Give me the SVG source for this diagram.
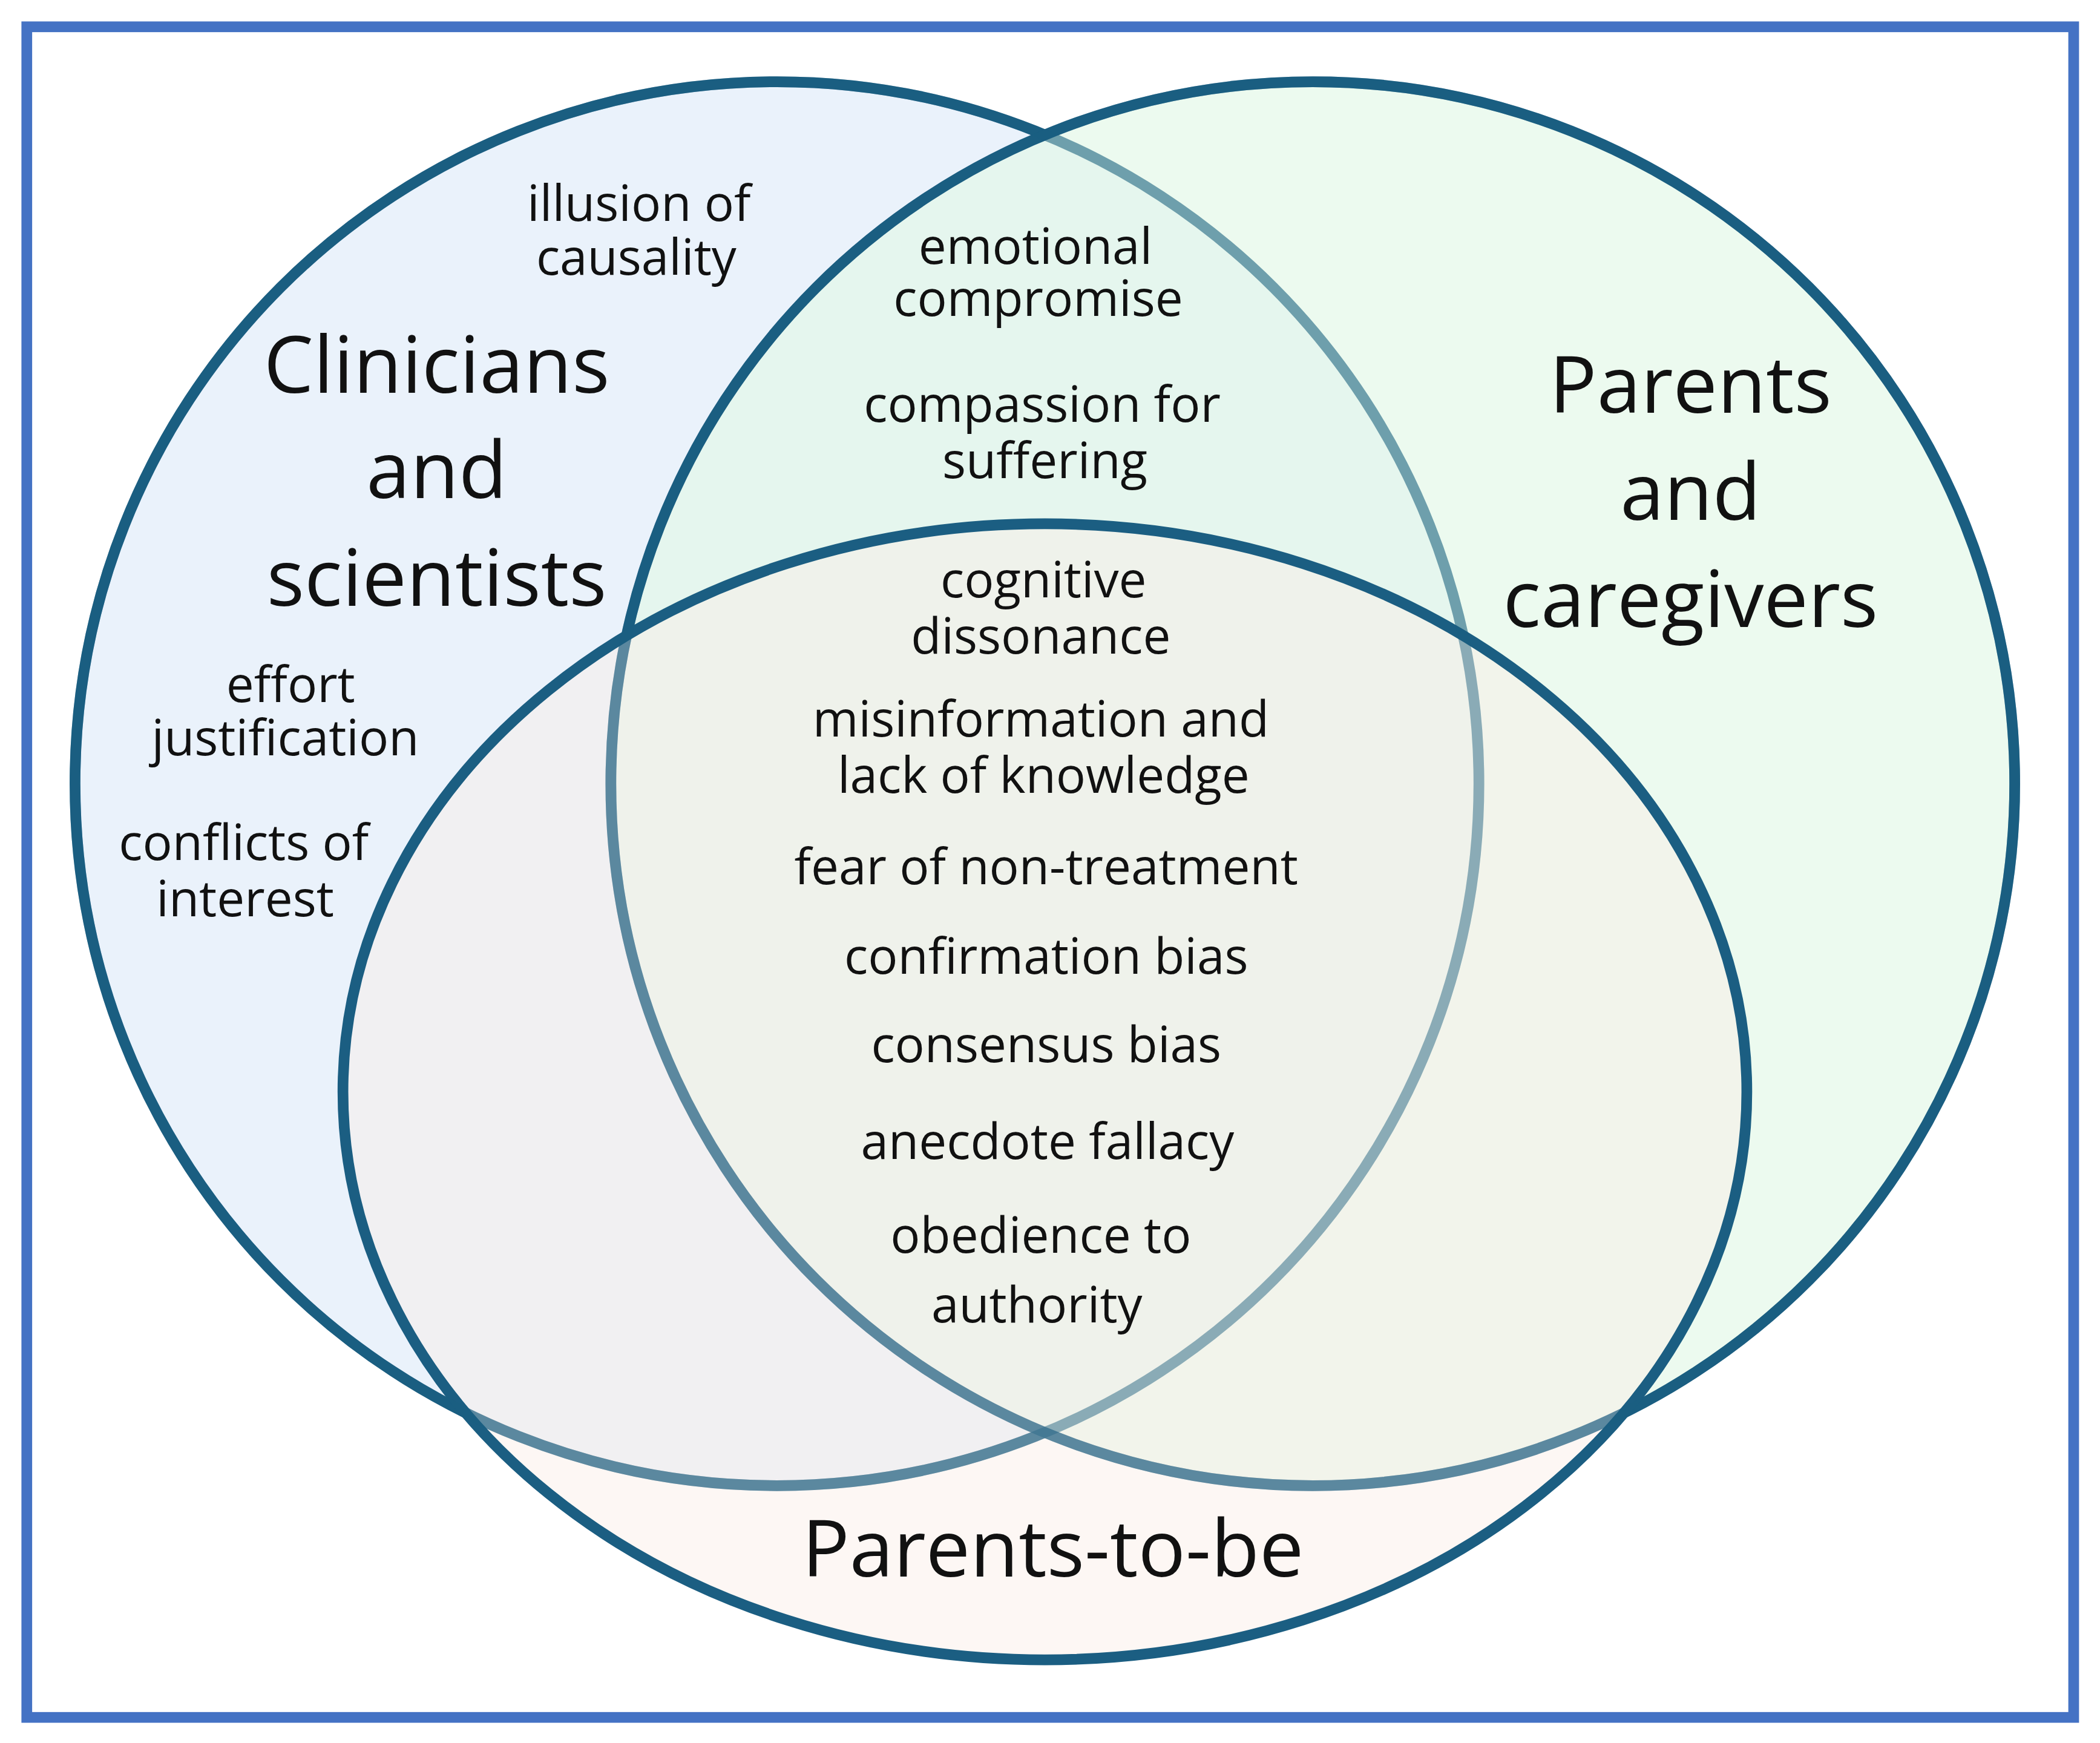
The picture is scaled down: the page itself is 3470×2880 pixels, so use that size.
<svg xmlns="http://www.w3.org/2000/svg" width="3470" height="2880" viewBox="0 0 3470 2880">
<style>
.s{stroke:#1B5E82;stroke-width:8}
.t{font-family:"Open Sans","Liberation Sans",sans-serif;font-size:37px;fill:#111;text-anchor:middle}
.h{font-family:"Open Sans","Liberation Sans",sans-serif;font-size:59px;fill:#111;text-anchor:middle}
</style>
<rect width="3470" height="2880" fill="#fff"/>
<g transform="scale(2.2135)">
<rect x="20" y="20" width="1528" height="1262" fill="#fff" stroke="#4472C4" stroke-width="8"/>
<g id="clinicians"><circle class="s" cx="580" cy="585" r="524" fill="#EAF2FB"/></g>
<g id="caregivers"><circle class="s" cx="980" cy="585" r="524" fill="#E2F7E6" fill-opacity="0.65"/></g>
<g id="parentstobe"><ellipse class="s" cx="780" cy="815" rx="524" ry="424" fill="#FBEDE6" fill-opacity="0.45"/></g>
<circle cx="580" cy="585" r="524" fill="none" stroke="#1B5E82" stroke-width="8" stroke-opacity="0.35"/>
<circle cx="980" cy="585" r="524" fill="none" stroke="#1B5E82" stroke-width="8" stroke-opacity="0.35"/>
<g id="labels">
<text class="h" x="326" y="293">Clinicians</text>
<text class="h" x="326" y="372">and</text>
<text class="h" x="326" y="452">scientists</text>
<text class="h" x="1262" y="308">Parents</text>
<text class="h" x="1262" y="388">and</text>
<text class="h" x="1262" y="468">caregivers</text>
<text class="h" x="786" y="1177">Parents-to-be</text>
<text class="t" x="477" y="165">illusion of</text>
<text class="t" x="475" y="205">causality</text>
<text class="t" x="773" y="197">emotional</text>
<text class="t" x="775" y="236">compromise</text>
<text class="t" x="778" y="315">compassion for</text>
<text class="t" x="780" y="357">suffering</text>
<text class="t" x="779" y="446">cognitive</text>
<text class="t" x="777" y="488">dissonance</text>
<text class="t" x="217" y="524">effort</text>
<text class="t" x="213" y="564">justification</text>
<text class="t" x="182" y="642">conflicts of</text>
<text class="t" x="183" y="684">interest</text>
<text class="t" x="777" y="550">misinformation and</text>
<text class="t" x="779" y="592">lack of knowledge</text>
<text class="t" x="781" y="660">fear of non-treatment</text>
<text class="t" x="781" y="727">confirmation bias</text>
<text class="t" x="781" y="793">consensus bias</text>
<text class="t" x="782" y="865">anecdote fallacy</text>
<text class="t" x="777" y="935">obedience to</text>
<text class="t" x="774" y="987">authority</text>
</g>
</g>
</svg>
